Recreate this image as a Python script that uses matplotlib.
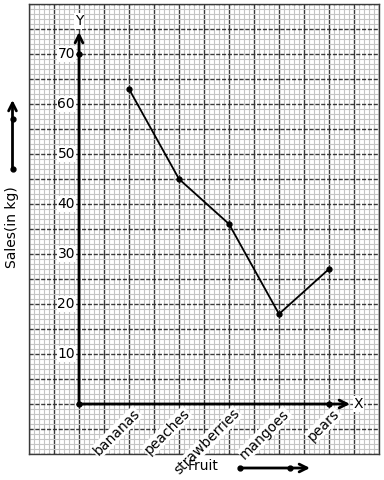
import numpy as np
import matplotlib
matplotlib.use('Agg')
import matplotlib.pyplot as plt
from matplotlib.ticker import MultipleLocator
from matplotlib.lines import Line2D
from matplotlib.patches import FancyArrowPatch

fruits = ['bananas', 'peaches', 'strawberries', 'mangoes', 'pears']
sales = [63, 45, 36, 18, 27]
yticks = [10, 20, 30, 40, 50, 60, 70]

W, H = 384, 480
fig = plt.figure(figsize=(W / 100, H / 100), dpi=100)
ax = fig.add_axes([29 / W, 26 / H, 350 / W, 450 / H])
ax.set_xlim(-1, 6)
ax.set_ylim(-10, 80)

# graph paper grid
ax.xaxis.set_major_locator(MultipleLocator(0.5))
ax.xaxis.set_minor_locator(MultipleLocator(0.1))
ax.yaxis.set_major_locator(MultipleLocator(5))
ax.yaxis.set_minor_locator(MultipleLocator(1))
ax.grid(which='minor', color='#c4c4c4', lw=0.8)
ax.grid(which='major', axis='x', color='#3a3a3a', lw=1.0)
ax.grid(which='major', axis='y', color='#3a3a3a', lw=1.0, ls=(0, (3, 1.2)))
ax.tick_params(which='both', length=0, labelbottom=False, labelleft=False)
ax.set_axisbelow(True)
for s in ax.spines.values():
    s.set_color('#3a3a3a')
    s.set_linewidth(1.0)

xpos = np.arange(1, len(fruits) + 1)

# axes with arrows
arrow = dict(arrowstyle='->', lw=2.0, color='k', mutation_scale=14, shrinkA=0, shrinkB=0)
ax.annotate('', xy=(0, 74.4), xytext=(0, 0), arrowprops=arrow)
ax.annotate('', xy=(5.42, 0), xytext=(0, 0), arrowprops=arrow)
ax.text(0, 76.6, 'Y', ha='center', va='center', fontsize=10,
        bbox=dict(facecolor='white', edgecolor='none', pad=0.5))
ax.text(5.5, 0, 'X', ha='left', va='center', fontsize=10,
        bbox=dict(facecolor='white', edgecolor='none', pad=0.5))
ax.plot([0, 0, xpos[-1]], [0, yticks[-1], 0], 'ko', ms=3.5, zorder=5)

# tick labels
for v in yticks:
    ax.text(-0.08, v, str(v), ha='right', va='center', fontsize=10,
            bbox=dict(facecolor='white', edgecolor='none', pad=0.5))
for x, name in zip(xpos, fruits):
    ax.text(x + 0.07, -0.5, name, rotation=45, rotation_mode='anchor',
            ha='right', va='top', fontsize=10,
            bbox=dict(facecolor='white', edgecolor='none', pad=0.5))

# data
ax.plot(xpos, sales, color='k', lw=1.3, marker='o', ms=3.5, zorder=4)

# axis titles with decorative arrows
fig.text(12.5 / W, 1 - 227 / H, 'Sales(in kg)', rotation=90, ha='center', va='center', fontsize=10)
fig.text(188 / W, 1 - 466 / H, 'Fruit', ha='left', va='center', fontsize=10)
fig.add_artist(FancyArrowPatch((12.5 / W, 1 - 169 / H), (12.5 / W, 1 - 100 / H),
                               transform=fig.transFigure, **arrow))
fig.add_artist(FancyArrowPatch((240 / W, 1 - 468 / H), (310 / W, 1 - 468 / H),
                               transform=fig.transFigure, **arrow))
fig.add_artist(Line2D([12.5 / W, 12.5 / W, 240 / W, 290 / W],
                      [1 - 169 / H, 1 - 119 / H, 1 - 468 / H, 1 - 468 / H],
                      transform=fig.transFigure, ls='none', marker='o', ms=3.5, color='k'))

fig.savefig('out.png', dpi=100)
